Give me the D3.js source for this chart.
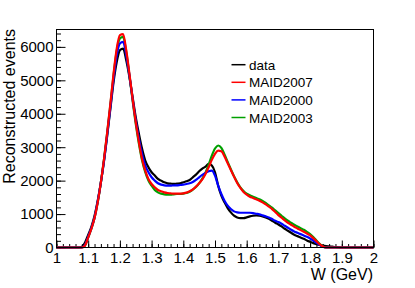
<!DOCTYPE html>
<html>
<head>
<meta charset="utf-8">
<script src="https://cdn.jsdelivr.net/npm/d3@7"></script>
<style>
  body { margin: 0; background: #fff; }
  svg { font-family: "Liberation Sans", Arial, sans-serif; }
</style>
</head>
<body>
<div id="chart"></div>
<script>
// W bins (GeV), 0.01 steps from 1.00 to 2.00
var wBins = d3.range(101).map(function (i) { return +(1 + i * 0.01).toFixed(2); });

// values, one per W bin
var data = [0,0,0,0,0,0,0,0,20,150,
  380,620,950,1400,1950,2600,3350,4150,4950,5550,
  5900,5950,5600,5100,4500,3900,3400,2950,2600,2400,
  2250,2150,2050,2000,1950,1920,1910,1900,1910,1920,
  1950,1980,2020,2100,2180,2280,2360,2420,2500,2450,
  2250,1850,1550,1350,1180,1050,950,900,880,880,
  900,930,950,960,950,930,900,860,800,740,
  690,630,560,500,440,380,340,300,260,210,
  170,130,100,80,60,45,35,25,15,8,
  0,0,0,0,0,0,0,0,0,0,0];

var maid2007 = [0,0,0,0,0,0,0,0,0,60,
  300,560,880,1350,1950,2650,3450,4300,5200,5950,
  6350,6380,5900,5200,4450,3750,3150,2650,2300,2050,
  1900,1800,1720,1680,1650,1630,1620,1610,1610,1610,
  1620,1640,1680,1740,1820,1920,2040,2200,2400,2620,
  2800,2900,2880,2720,2520,2320,2120,1930,1780,1660,
  1580,1520,1480,1440,1400,1350,1290,1220,1150,1060,
  970,890,810,740,680,620,570,520,470,420,
  360,280,190,100,30,0,0,0,0,0,
  0,0,0,0,0,0,0,0,0,0,0];

var maid2000 = [0,0,0,0,0,0,0,0,0,80,
  320,580,900,1380,1950,2600,3380,4200,5050,5750,
  6100,6150,5750,5150,4450,3800,3250,2800,2450,2250,
  2100,2000,1920,1880,1860,1850,1850,1860,1860,1870,
  1880,1900,1920,1960,2020,2100,2170,2230,2280,2300,
  2150,1850,1600,1400,1250,1150,1080,1050,1040,1040,
  1040,1040,1030,1010,990,960,930,900,850,800,
  760,710,650,590,530,480,440,400,360,320,
  270,210,140,80,20,0,0,0,0,0,
  0,0,0,0,0,0,0,0,0,0,0];

var maid2003 = [0,0,0,0,0,0,0,0,0,60,
  300,560,880,1350,1950,2650,3430,4270,5150,5880,
  6250,6300,5850,5150,4400,3700,3100,2600,2250,2000,
  1850,1720,1650,1610,1590,1580,1580,1590,1600,1600,
  1610,1630,1670,1730,1810,1920,2060,2240,2480,2750,
  2960,3050,2980,2780,2560,2340,2130,1950,1800,1690,
  1610,1560,1520,1480,1440,1390,1330,1260,1190,1110,
  1030,950,870,800,740,680,630,580,530,470,
  400,310,210,110,30,0,0,0,0,0,
  0,0,0,0,0,0,0,0,0,0,0];

var series = [
  { name: "data", color: "#000000", values: data },
  { name: "MAID2003", color: "#00a000", values: maid2003 },
  { name: "MAID2000", color: "#0000ff", values: maid2000 },
  { name: "MAID2007", color: "#ff0000", values: maid2007 }
];
var legendOrder = ["data", "MAID2007", "MAID2000", "MAID2003"];

var xTicks = [1, 1.1, 1.2, 1.3, 1.4, 1.5, 1.6, 1.7, 1.8, 1.9, 2];
var yTicks = [0, 1000, 2000, 3000, 4000, 5000, 6000];

var svg = d3.select("#chart").append("svg").attr("width", 415).attr("height", 288);

var x = d3.scaleLinear().domain([1, 2]).range([56.5, 373.5]);
var y = d3.scaleLinear().domain([0, 6520]).range([247.5, 29.5]);

// minor ticks
svg.append("g").attr("transform", "translate(56.5,0)")
  .call(d3.axisLeft(y).tickValues(d3.range(0, 6520, 200)).tickSize(-4.5).tickFormat(""))
  .call(function (g) { g.select(".domain").remove(); });
svg.append("g").attr("transform", "translate(0,247.5)")
  .call(d3.axisBottom(x).tickValues(d3.range(0, 51).map(function (i) { return 1 + i * 0.02; })).tickSize(-3.5).tickFormat(""))
  .call(function (g) { g.select(".domain").remove(); });

// major ticks + labels
var yAxis = svg.append("g").attr("transform", "translate(56.5,0)")
  .call(d3.axisLeft(y).tickValues(yTicks).tickSizeInner(-9).tickSizeOuter(0).tickPadding(3).tickFormat(d3.format("d")));
yAxis.select(".domain").remove();
yAxis.selectAll("text").attr("x", -3).attr("font-size", 15).attr("font-family", "Liberation Sans, Arial, sans-serif").attr("fill", "#000");

var xAxis = svg.append("g").attr("transform", "translate(0,247.5)")
  .call(d3.axisBottom(x).tickValues(xTicks).tickSizeInner(-7).tickSizeOuter(0).tickFormat(d3.format("")));
xAxis.select(".domain").remove();
xAxis.selectAll("text").attr("y", 5).attr("font-size", 15).attr("font-family", "Liberation Sans, Arial, sans-serif").attr("fill", "#000");

// histograms
var line = d3.line()
  .x(function (d, i) { return x(wBins[i]); })
  .y(function (d) { return y(d); })
  .curve(d3.curveMonotoneX);

series.forEach(function (s) {
  svg.append("path")
    .datum(s.values)
    .attr("d", line)
    .attr("fill", "none")
    .attr("stroke", s.color)
    .attr("stroke-width", 2.2)
    .attr("stroke-linejoin", "round");
});

// frame
svg.append("rect").attr("x", 56.5).attr("y", 29.5).attr("width", 317).attr("height", 218)
  .attr("fill", "none").attr("stroke", "#000").attr("stroke-width", 1);

// axis titles
svg.append("text").attr("transform", "translate(15,29) rotate(-90)")
  .attr("text-anchor", "end").attr("font-size", 16).text("Reconstructed events");
svg.append("text").attr("x", 373).attr("y", 280)
  .attr("text-anchor", "end").attr("font-size", 16).text("W (GeV)");

// legend
var legend = svg.append("g");
legendOrder.forEach(function (name, i) {
  var s = series.filter(function (d) { return d.name === name; })[0];
  var ly = 64.7 + i * 17.6;
  legend.append("line").attr("x1", 231.5).attr("x2", 245.5).attr("y1", ly).attr("y2", ly)
    .attr("stroke", s.color).attr("stroke-width", 1.5);
  legend.append("text").attr("x", 249).attr("y", ly + 5).attr("font-size", 13.5).text(name);
});
</script>
</body>
</html>
